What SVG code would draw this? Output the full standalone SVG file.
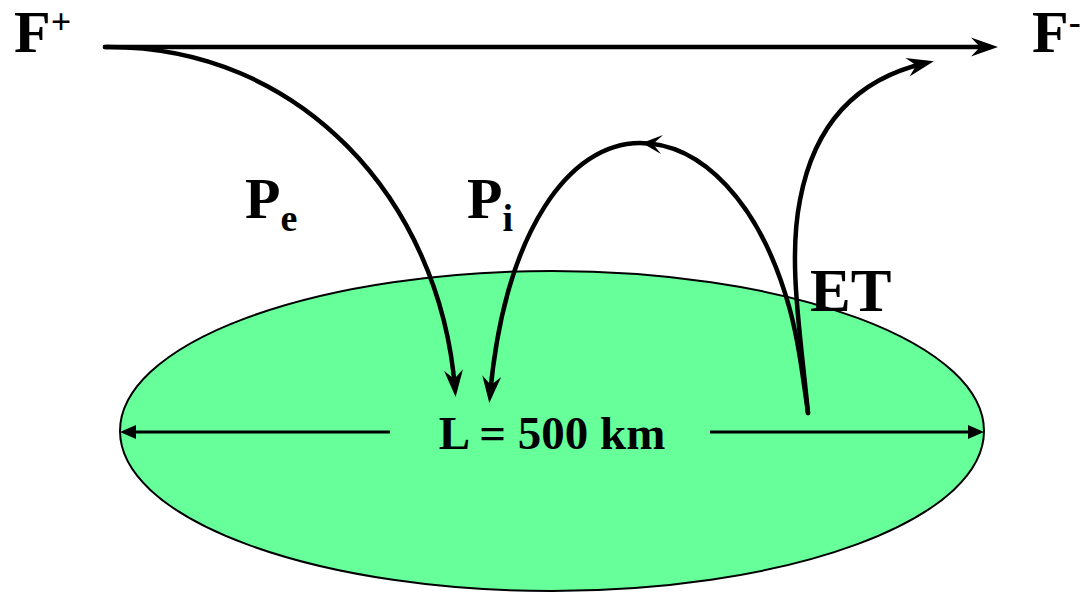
<svg xmlns="http://www.w3.org/2000/svg" width="1084" height="592" viewBox="0 0 1084 592">
<style>
  .lbl { font-family: "Liberation Serif", "Times New Roman", serif; font-weight: bold; fill: #000; }
  .curve { fill: none; stroke: #000; stroke-width: 4.5; stroke-linecap: round; }
  .dim { fill: none; stroke: #000; stroke-width: 3; }
</style>
<defs>
  <marker id="stealth" markerUnits="userSpaceOnUse" viewBox="-20 -10 30 20" refX="0" refY="0" markerWidth="30" markerHeight="20" orient="auto" overflow="visible">
    <path d="M8,0 L-19,-9.5 L-10,0 L-19,9.5 Z" fill="#000"/>
  </marker>
  <marker id="tri" markerUnits="userSpaceOnUse" viewBox="-4 -8 20 16" refX="0" refY="0" markerWidth="20" markerHeight="16" orient="auto" overflow="visible">
    <path d="M14,0 L-2,-7 L-2,7 Z" fill="#000"/>
  </marker>
</defs>

<g id="region">
  <ellipse cx="552" cy="431" rx="432" ry="160" fill="#66FF99" stroke="#000" stroke-width="2"/>
  <text class="lbl" x="552" y="449" font-size="47" text-anchor="middle">L = 500 km</text>
</g>

<g id="label-fplus">
  <text class="lbl" x="14" y="52" font-size="60">F<tspan font-size="36" dy="-18">+</tspan></text>
</g>
<g id="label-fminus">
  <text class="lbl" x="1032" y="52" font-size="60">F<tspan font-size="36" dy="-18">-</tspan></text>
</g>
<g id="label-pe">
  <text class="lbl" x="245" y="218" font-size="58">P<tspan font-size="38" dy="13">e</tspan></text>
</g>
<g id="label-pi">
  <text class="lbl" x="467" y="218" font-size="58">P<tspan font-size="38" dy="13">i</tspan></text>
</g>
<g id="label-et">
  <text class="lbl" x="810" y="311" font-size="61">ET</text>
</g>

<g id="connectors">
  <path class="curve" stroke-width="5" d="M105,47 L990,47" marker-end="url(#stealth)"/>
  <path class="curve" d="M105,47 C300,45 440,200 455,389" marker-end="url(#stealth)"/>
  <path class="curve" d="M808,413 C802,370 798,340 790,310 C760,200 700,143 640,143 C570,143 505,230 490,395" marker-end="url(#stealth)"/>
  <path d="M642,143 L663,135 L653,144 L661,154 Z" fill="#000"/>
  <path class="curve" d="M808,413 C800,330 788,260 800,200 C815,120 860,78 926,63" marker-end="url(#stealth)"/>
  <path class="dim" d="M390,432 L134,432" marker-end="url(#tri)"/>
  <path class="dim" d="M710,432 L970,432" marker-end="url(#tri)"/>
</g>
</svg>
